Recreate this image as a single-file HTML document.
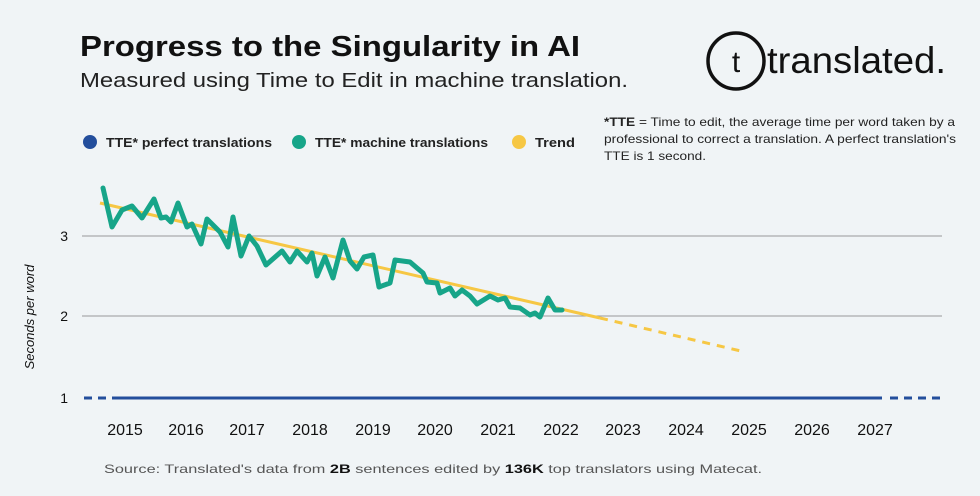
<!DOCTYPE html>
<html><head><meta charset="utf-8"><style>
body{margin:0;background:#f0f4f6;}
svg{display:block;font-family:"Liberation Sans",sans-serif;}
</style></head><body>
<svg width="980" height="496" viewBox="0 0 980 496">
<rect width="980" height="496" fill="#f0f4f6"/>
<text x="80" y="56" font-size="29" font-weight="bold" fill="#111" textLength="500" lengthAdjust="spacingAndGlyphs">Progress to the Singularity in AI</text>
<text x="80" y="87" font-size="20.5" fill="#222" textLength="548" lengthAdjust="spacingAndGlyphs">Measured using Time to Edit in machine translation.</text>
<circle cx="736" cy="61" r="28" fill="none" stroke="#111" stroke-width="3.5"/>
<text x="736" y="72" font-size="30" text-anchor="middle" fill="#111">t</text>
<text x="767" y="73" font-size="37" fill="#111" textLength="179" lengthAdjust="spacingAndGlyphs">translated.</text>
<circle cx="90" cy="142" r="7" fill="#234e9c"/>
<text x="106" y="147" font-size="13" font-weight="bold" fill="#222" textLength="166" lengthAdjust="spacingAndGlyphs">TTE* perfect translations</text>
<circle cx="299" cy="142" r="7" fill="#17a589"/>
<text x="315" y="147" font-size="13" font-weight="bold" fill="#222" textLength="173" lengthAdjust="spacingAndGlyphs">TTE* machine translations</text>
<circle cx="519" cy="142" r="7" fill="#f6c744"/>
<text x="535" y="147" font-size="13" font-weight="bold" fill="#222" textLength="40" lengthAdjust="spacingAndGlyphs">Trend</text>
<text font-size="12" fill="#222"><tspan x="604" y="126" textLength="351" lengthAdjust="spacingAndGlyphs"><tspan font-weight="bold">*TTE</tspan> = Time to edit, the average time per word taken by a</tspan><tspan x="604" y="143" textLength="352" lengthAdjust="spacingAndGlyphs">professional to correct a translation. A perfect translation's</tspan><tspan x="604" y="160" textLength="102" lengthAdjust="spacingAndGlyphs">TTE is 1 second.</tspan></text>
<line x1="82" y1="236" x2="942" y2="236" stroke="#999" stroke-width="1"/>
<line x1="82" y1="316" x2="942" y2="316" stroke="#999" stroke-width="1"/>
<text x="68" y="241" font-size="14" text-anchor="end" fill="#111">3</text>
<text x="68" y="321" font-size="14" text-anchor="end" fill="#111">2</text>
<text x="68" y="403" font-size="14" text-anchor="end" fill="#111">1</text>
<text transform="translate(34,317) rotate(-90)" font-size="13" font-style="italic" text-anchor="middle" fill="#111">Seconds per word</text>
<line x1="84" y1="398" x2="120" y2="398" stroke="#234e9c" stroke-width="3" stroke-dasharray="8,6"/>
<line x1="120" y1="398" x2="882" y2="398" stroke="#234e9c" stroke-width="3"/>
<line x1="890" y1="398" x2="942" y2="398" stroke="#234e9c" stroke-width="3" stroke-dasharray="8,6"/>
<g font-size="16" fill="#111" text-anchor="middle">
<text x="125" y="435">2015</text><text x="186" y="435">2016</text><text x="247" y="435">2017</text><text x="310" y="435">2018</text><text x="373" y="435">2019</text><text x="435" y="435">2020</text><text x="498" y="435">2021</text><text x="561" y="435">2022</text><text x="623" y="435">2023</text><text x="686" y="435">2024</text><text x="749" y="435">2025</text><text x="812" y="435">2026</text><text x="875" y="435">2027</text>
</g>
<line x1="100" y1="203" x2="600" y2="318" stroke="#f6c744" stroke-width="3"/>
<line x1="600" y1="318" x2="745" y2="352" stroke="#f6c744" stroke-width="3" stroke-dasharray="8,7"/>
<polyline fill="none" stroke="#17a589" stroke-width="5" stroke-linejoin="round" stroke-linecap="round" points="103,188 112,227 122,210 132,206 142,218 154,199 161,218 166,217 171,222 178,203 187,227 192,224 201,244 207,219 220,232 228,247 233,217 241,256 249,236 257,246 266,265 282,251 290,262 297,251 307,262 312,253 317,276 325,257 333,278 343,240 350,261 357,269 364,257 373,255 379,287 390,283 395,260 410,262 417,268 423,273 427,282 437,283 440,293 450,288 455,296 462,290 470,296 477,304 490,296 498,300 505,298 510,307 520,308 530,315 535,313 540,317 548,298 555,310 562,310"/>
<text x="104" y="473" font-size="12" fill="#555" textLength="658" lengthAdjust="spacingAndGlyphs">Source: Translated's data from <tspan font-weight="bold" fill="#111">2B</tspan> sentences edited by <tspan font-weight="bold" fill="#111">136K</tspan> top translators using Matecat.</text>
</svg>
</body></html>
